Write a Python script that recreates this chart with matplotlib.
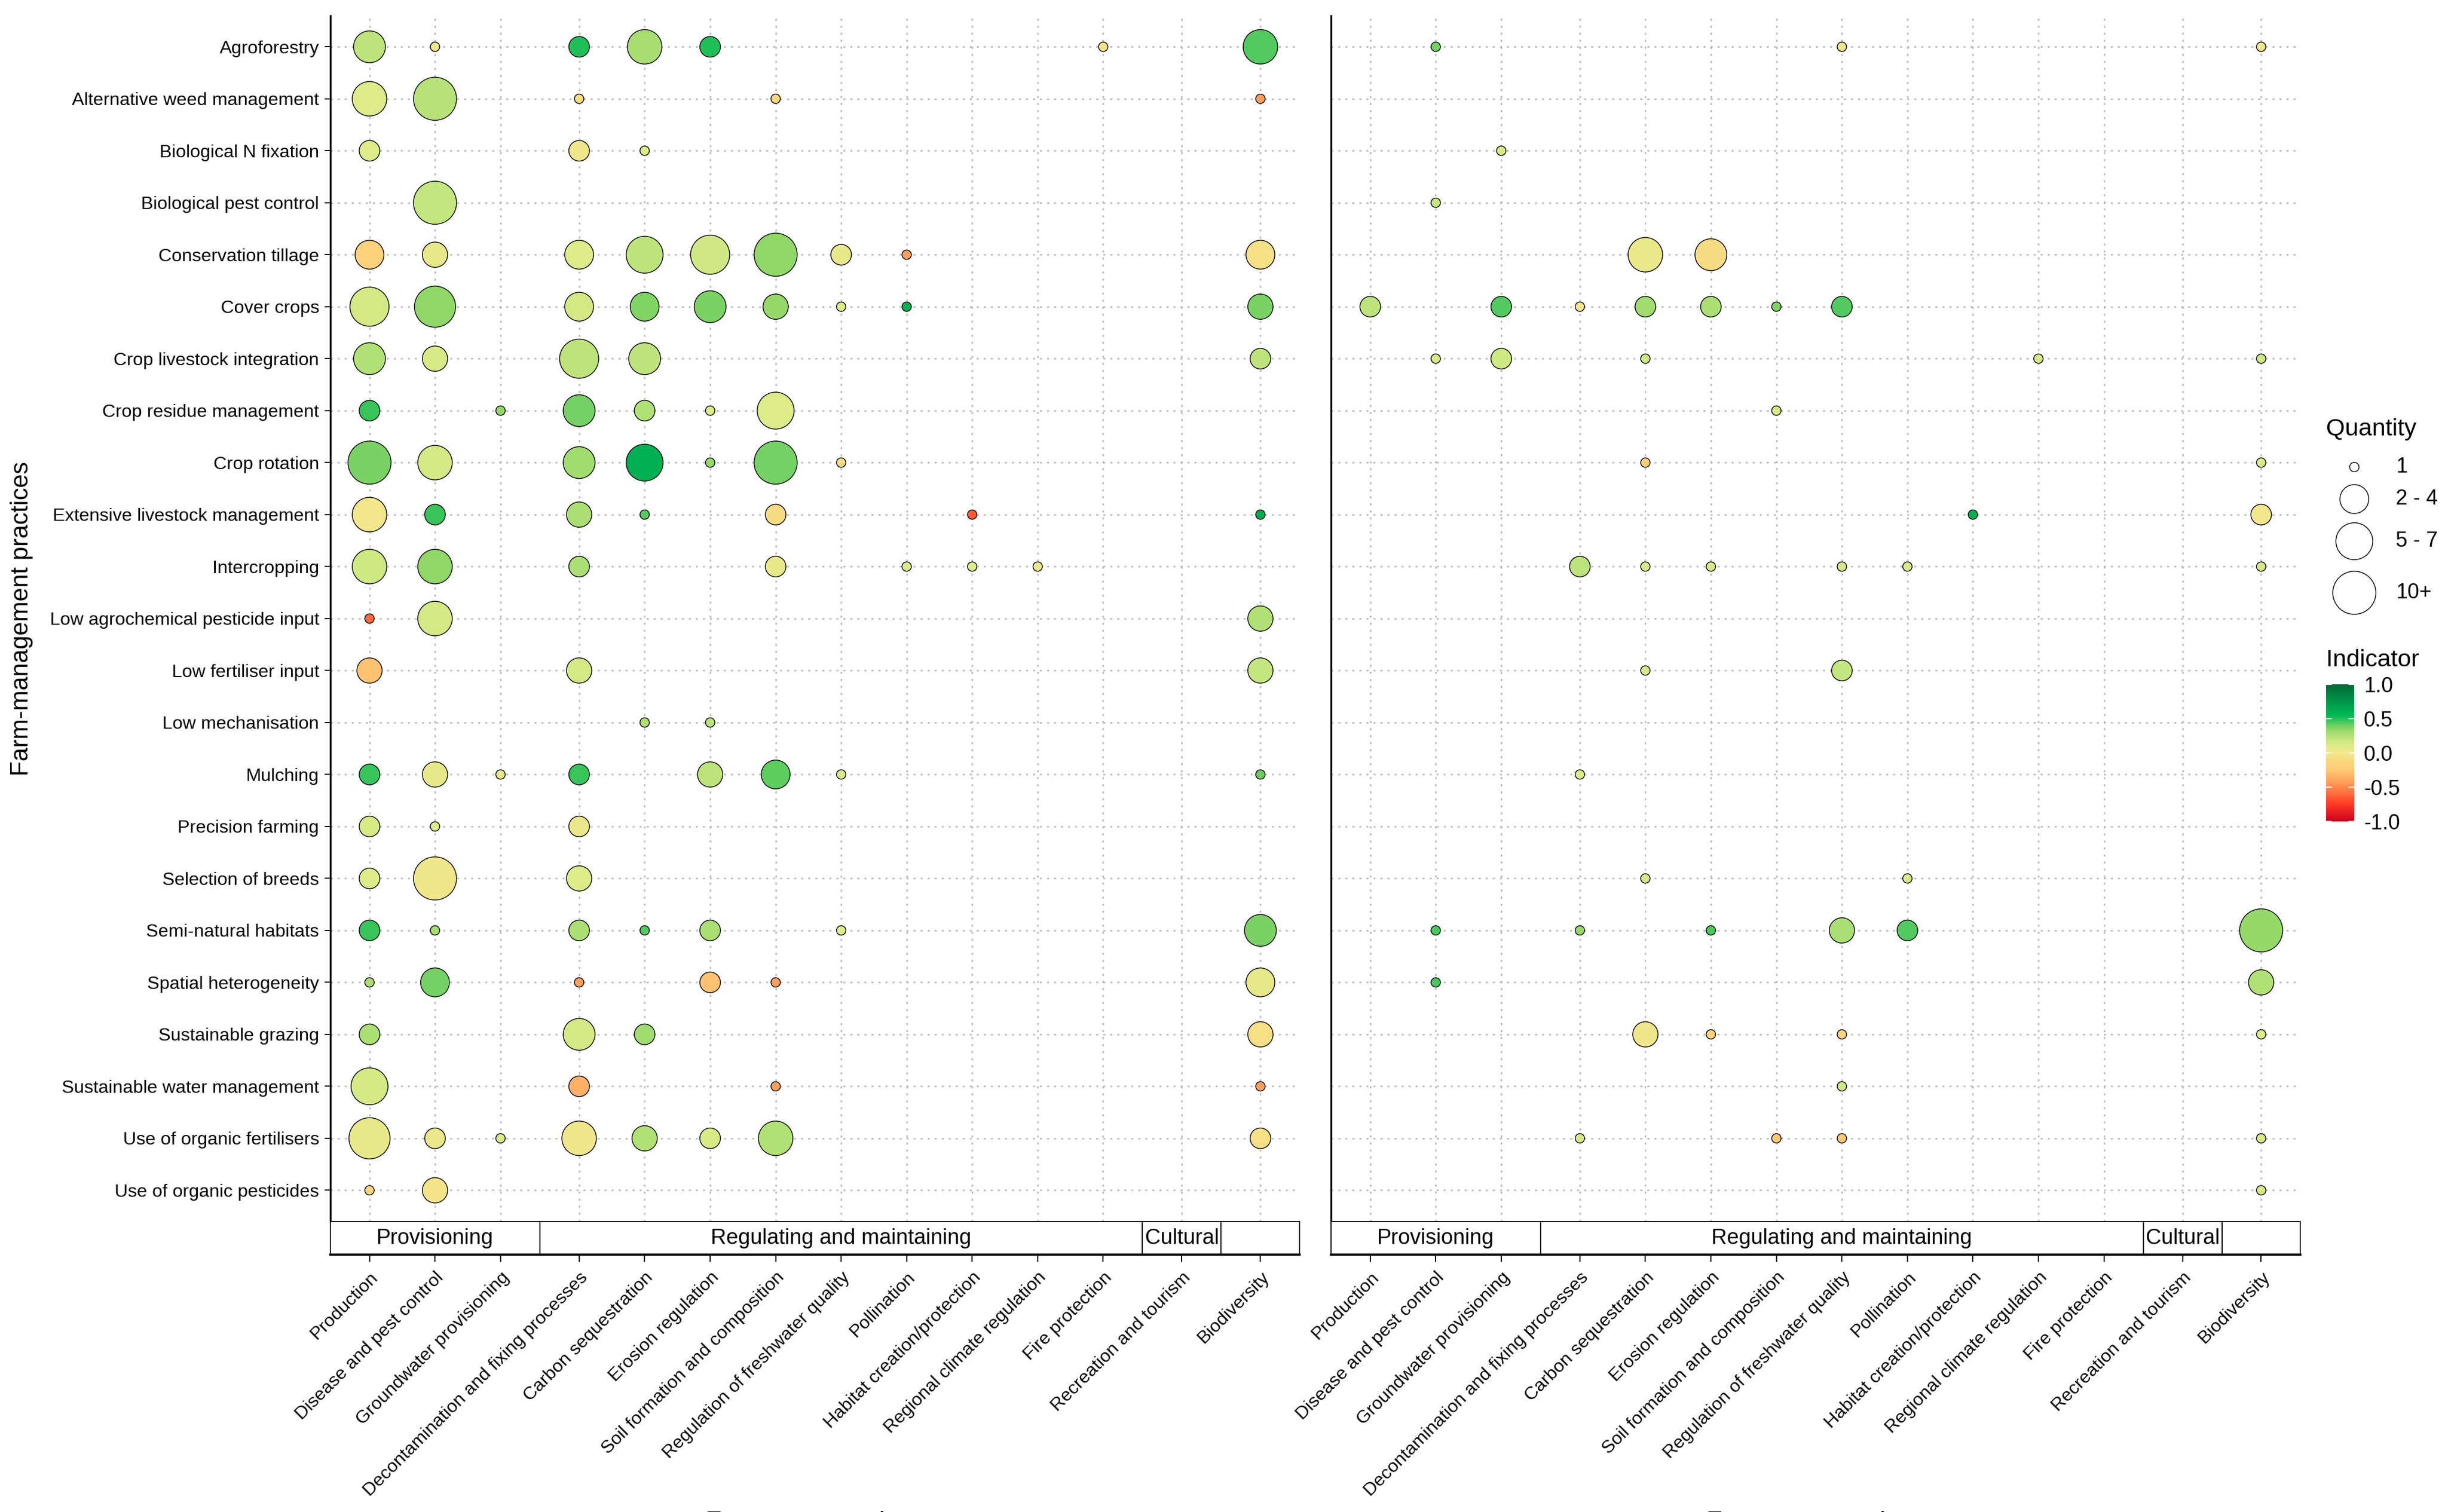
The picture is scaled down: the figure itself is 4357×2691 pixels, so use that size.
import numpy as np
import matplotlib
matplotlib.use("Agg")
import matplotlib.pyplot as plt
from matplotlib.colors import LinearSegmentedColormap, Normalize
from matplotlib.cm import ScalarMappable
from matplotlib.patches import Rectangle

plt.rcParams['font.family'] = ['Liberation Sans', 'DejaVu Sans']

# Rows (farm-management practices), top to bottom
practices = [
    "Agroforestry", "Alternative weed management", "Biological N fixation",
    "Biological pest control", "Conservation tillage", "Cover crops",
    "Crop livestock integration", "Crop residue management", "Crop rotation",
    "Extensive livestock management", "Intercropping",
    "Low agrochemical pesticide input", "Low fertiliser input",
    "Low mechanisation", "Mulching", "Precision farming", "Selection of breeds",
    "Semi-natural habitats", "Spatial heterogeneity", "Sustainable grazing",
    "Sustainable water management", "Use of organic fertilisers",
    "Use of organic pesticides",
]

# Columns (ecosystem services) with short keys
service_keys = ["Prod", "Dis", "GW", "Dec", "Carb", "Eros", "Soil", "Fresh",
                "Poll", "Hab", "Clim", "Fire", "Rec", "Bio"]
service_names = [
    "Production", "Disease and pest control", "Groundwater provisioning",
    "Decontamination and fixing processes", "Carbon sequestration",
    "Erosion regulation", "Soil formation and composition",
    "Regulation of freshwater quality", "Pollination",
    "Habitat creation/protection", "Regional climate regulation",
    "Fire protection", "Recreation and tourism", "Biodiversity",
]
group_names = ["Provisioning", "Regulating and maintaining", "Cultural", ""]
group_sizes = [3, 9, 1, 1]

# (practice, service, quantity, indicator)
left_cells = [
    ("Agroforestry", "Prod", 5, 0.22), ("Agroforestry", "Dis", 1, 0.02),
    ("Agroforestry", "Dec", 2, 0.5), ("Agroforestry", "Carb", 6, 0.28),
    ("Agroforestry", "Eros", 2, 0.5), ("Agroforestry", "Fire", 1, -0.05),
    ("Agroforestry", "Bio", 6, 0.43),
    ("Alternative weed management", "Prod", 6, 0.1),
    ("Alternative weed management", "Dis", 10, 0.24),
    ("Alternative weed management", "Dec", 1, -0.08),
    ("Alternative weed management", "Soil", 1, -0.12),
    ("Alternative weed management", "Bio", 1, -0.42),
    ("Biological N fixation", "Prod", 2, 0.1),
    ("Biological N fixation", "Dec", 2, 0.02),
    ("Biological N fixation", "Carb", 1, 0.1),
    ("Biological pest control", "Dis", 10, 0.2),
    ("Conservation tillage", "Prod", 4, -0.18),
    ("Conservation tillage", "Dis", 3, 0.06),
    ("Conservation tillage", "Dec", 4, 0.1),
    ("Conservation tillage", "Carb", 7, 0.22),
    ("Conservation tillage", "Eros", 8, 0.15),
    ("Conservation tillage", "Soil", 10, 0.35),
    ("Conservation tillage", "Fresh", 2, 0.06),
    ("Conservation tillage", "Poll", 1, -0.42),
    ("Conservation tillage", "Bio", 4, -0.04),
    ("Cover crops", "Prod", 8, 0.14), ("Cover crops", "Dis", 9, 0.35),
    ("Cover crops", "Dec", 4, 0.14), ("Cover crops", "Carb", 4, 0.37),
    ("Cover crops", "Eros", 5, 0.38), ("Cover crops", "Soil", 3, 0.33),
    ("Cover crops", "Fresh", 1, 0.1), ("Cover crops", "Poll", 1, 0.6),
    ("Cover crops", "Bio", 3, 0.38),
    ("Crop livestock integration", "Prod", 5, 0.25),
    ("Crop livestock integration", "Dis", 3, 0.12),
    ("Crop livestock integration", "Dec", 8, 0.22),
    ("Crop livestock integration", "Carb", 5, 0.22),
    ("Crop livestock integration", "Bio", 2, 0.22),
    ("Crop residue management", "Prod", 2, 0.47),
    ("Crop residue management", "GW", 1, 0.33),
    ("Crop residue management", "Dec", 5, 0.39),
    ("Crop residue management", "Carb", 2, 0.25),
    ("Crop residue management", "Eros", 1, 0.1),
    ("Crop residue management", "Soil", 7, 0.1),
    ("Crop rotation", "Prod", 10, 0.38), ("Crop rotation", "Dis", 6, 0.14),
    ("Crop rotation", "Dec", 5, 0.3), ("Crop rotation", "Carb", 7, 0.6),
    ("Crop rotation", "Eros", 1, 0.33), ("Crop rotation", "Soil", 10, 0.39),
    ("Crop rotation", "Fresh", 1, -0.08),
    ("Extensive livestock management", "Prod", 6, 0.0),
    ("Extensive livestock management", "Dis", 2, 0.47),
    ("Extensive livestock management", "Dec", 3, 0.27),
    ("Extensive livestock management", "Carb", 1, 0.43),
    ("Extensive livestock management", "Soil", 2, -0.08),
    ("Extensive livestock management", "Hab", 1, -0.65),
    ("Extensive livestock management", "Bio", 1, 0.62),
    ("Intercropping", "Prod", 6, 0.16), ("Intercropping", "Dis", 6, 0.35),
    ("Intercropping", "Dec", 2, 0.27), ("Intercropping", "Soil", 2, 0.06),
    ("Intercropping", "Poll", 1, 0.1), ("Intercropping", "Hab", 1, 0.1),
    ("Intercropping", "Clim", 1, 0.04),
    ("Low agrochemical pesticide input", "Prod", 1, -0.6),
    ("Low agrochemical pesticide input", "Dis", 6, 0.14),
    ("Low agrochemical pesticide input", "Bio", 3, 0.25),
    ("Low fertiliser input", "Prod", 3, -0.28),
    ("Low fertiliser input", "Dec", 3, 0.14),
    ("Low fertiliser input", "Bio", 3, 0.2),
    ("Low mechanisation", "Carb", 1, 0.25),
    ("Low mechanisation", "Eros", 1, 0.22),
    ("Mulching", "Prod", 2, 0.47), ("Mulching", "Dis", 3, 0.06),
    ("Mulching", "GW", 1, 0.06), ("Mulching", "Dec", 2, 0.47),
    ("Mulching", "Eros", 3, 0.22), ("Mulching", "Soil", 4, 0.42),
    ("Mulching", "Fresh", 1, 0.1), ("Mulching", "Bio", 1, 0.4),
    ("Precision farming", "Prod", 2, 0.13), ("Precision farming", "Dis", 1, 0.1),
    ("Precision farming", "Dec", 2, 0.05),
    ("Selection of breeds", "Prod", 2, 0.1),
    ("Selection of breeds", "Dis", 10, 0.02),
    ("Selection of breeds", "Dec", 3, 0.1),
    ("Semi-natural habitats", "Prod", 2, 0.47),
    ("Semi-natural habitats", "Dis", 1, 0.3),
    ("Semi-natural habitats", "Dec", 2, 0.27),
    ("Semi-natural habitats", "Carb", 1, 0.43),
    ("Semi-natural habitats", "Eros", 2, 0.27),
    ("Semi-natural habitats", "Fresh", 1, 0.1),
    ("Semi-natural habitats", "Bio", 5, 0.38),
    ("Spatial heterogeneity", "Prod", 1, 0.27),
    ("Spatial heterogeneity", "Dis", 4, 0.39),
    ("Spatial heterogeneity", "Dec", 1, -0.42),
    ("Spatial heterogeneity", "Eros", 2, -0.28),
    ("Spatial heterogeneity", "Soil", 1, -0.42),
    ("Spatial heterogeneity", "Bio", 4, 0.06),
    ("Sustainable grazing", "Prod", 2, 0.27),
    ("Sustainable grazing", "Dec", 5, 0.14),
    ("Sustainable grazing", "Carb", 2, 0.3),
    ("Sustainable grazing", "Bio", 3, -0.06),
    ("Sustainable water management", "Prod", 7, 0.14),
    ("Sustainable water management", "Dec", 2, -0.35),
    ("Sustainable water management", "Soil", 1, -0.42),
    ("Sustainable water management", "Bio", 1, -0.42),
    ("Use of organic fertilisers", "Prod", 9, 0.06),
    ("Use of organic fertilisers", "Dis", 2, 0.04),
    ("Use of organic fertilisers", "GW", 1, 0.1),
    ("Use of organic fertilisers", "Dec", 6, 0.02),
    ("Use of organic fertilisers", "Carb", 3, 0.25),
    ("Use of organic fertilisers", "Eros", 2, 0.13),
    ("Use of organic fertilisers", "Soil", 6, 0.25),
    ("Use of organic fertilisers", "Bio", 2, -0.06),
    ("Use of organic pesticides", "Prod", 1, -0.15),
    ("Use of organic pesticides", "Dis", 3, -0.02),
]

right_cells = [
    ("Agroforestry", "Dis", 1, 0.39), ("Agroforestry", "Fresh", 1, 0.0),
    ("Agroforestry", "Bio", 1, 0.0),
    ("Biological N fixation", "GW", 1, 0.12),
    ("Biological pest control", "Dis", 1, 0.2),
    ("Conservation tillage", "Carb", 6, 0.05),
    ("Conservation tillage", "Eros", 5, -0.08),
    ("Cover crops", "Prod", 2, 0.22), ("Cover crops", "GW", 2, 0.43),
    ("Cover crops", "Dec", 1, 0.0), ("Cover crops", "Carb", 2, 0.3),
    ("Cover crops", "Eros", 2, 0.27), ("Cover crops", "Soil", 1, 0.37),
    ("Cover crops", "Fresh", 2, 0.43),
    ("Crop livestock integration", "Dis", 1, 0.13),
    ("Crop livestock integration", "GW", 2, 0.16),
    ("Crop livestock integration", "Carb", 1, 0.16),
    ("Crop livestock integration", "Clim", 1, 0.12),
    ("Crop livestock integration", "Bio", 1, 0.16),
    ("Crop residue management", "Soil", 1, 0.12),
    ("Crop rotation", "Carb", 1, -0.2), ("Crop rotation", "Bio", 1, 0.13),
    ("Extensive livestock management", "Hab", 1, 0.6),
    ("Extensive livestock management", "Bio", 2, 0.0),
    ("Intercropping", "Dec", 2, 0.22), ("Intercropping", "Carb", 1, 0.13),
    ("Intercropping", "Eros", 1, 0.13), ("Intercropping", "Fresh", 1, 0.13),
    ("Intercropping", "Poll", 1, 0.13), ("Intercropping", "Bio", 1, 0.13),
    ("Low fertiliser input", "Carb", 1, 0.12),
    ("Low fertiliser input", "Fresh", 2, 0.2),
    ("Mulching", "Dec", 1, 0.1),
    ("Selection of breeds", "Carb", 1, 0.12),
    ("Selection of breeds", "Poll", 1, 0.12),
    ("Semi-natural habitats", "Dis", 1, 0.45),
    ("Semi-natural habitats", "Dec", 1, 0.33),
    ("Semi-natural habitats", "Eros", 1, 0.45),
    ("Semi-natural habitats", "Fresh", 3, 0.27),
    ("Semi-natural habitats", "Poll", 2, 0.43),
    ("Semi-natural habitats", "Bio", 10, 0.33),
    ("Spatial heterogeneity", "Dis", 1, 0.45),
    ("Spatial heterogeneity", "Bio", 3, 0.25),
    ("Sustainable grazing", "Carb", 3, 0.02),
    ("Sustainable grazing", "Eros", 1, -0.15),
    ("Sustainable grazing", "Fresh", 1, -0.15),
    ("Sustainable grazing", "Bio", 1, 0.1),
    ("Sustainable water management", "Fresh", 1, 0.16),
    ("Use of organic fertilisers", "Dec", 1, 0.12),
    ("Use of organic fertilisers", "Soil", 1, -0.25),
    ("Use of organic fertilisers", "Fresh", 1, -0.25),
    ("Use of organic fertilisers", "Bio", 1, 0.12),
    ("Use of organic pesticides", "Bio", 1, 0.12),
]

size_breaks = [1, 4, 7, 10]
size_labels = ["1", "2 - 4", "5 - 7", "10+"]
indicator_ticks = [-1.0, -0.5, 0.0, 0.5, 1.0]

# colour scale for the indicator
stops = [(-1.0, '#C8001E'), (-0.75, '#FF3A24'), (-0.5, '#FF8B4E'),
         (-0.25, '#FFC975'), (0.0, '#F5E68B'), (0.1, '#DDEB88'),
         (0.2, '#C4E67E'), (0.35, '#8FD766'), (0.55, '#00B955'),
         (1.0, '#006838')]
cmap = LinearSegmentedColormap.from_list(
    'indicator', [((v + 1) / 2, c) for v, c in stops])
norm = Normalize(-1, 1)

# figure geometry in "reference pixels" (1568 x 968 grid)
W, H = 1568.0, 968.0
PT = 72.0 * (4357 / W) / 300.0   # points per reference pixel


def bubble_area(q):
    q = np.asarray(q, dtype=float)
    d = 6 + 21.6 * np.sqrt((q - 1) / 9.0)
    return (d * PT) ** 2


# x positions per facet group (ggplot-like discrete expansion)
x_pos = []
edges = [0.0]
start = 0.0
for n in group_sizes:
    x_pos += [start + 0.6 + i for i in range(n)]
    start += n + 0.2
    edges.append(start)
x_total = start
svc_x = dict(zip(service_keys, x_pos))
row_y = {p: i for i, p in enumerate(practices)}

fig = plt.figure(figsize=(4357 / 300, 2691 / 300), dpi=300)


def fig_rect(x0, y0, x1, y1):
    return [x0 / W, 1 - y1 / H, (x1 - x0) / W, (y1 - y0) / H]


grid_style = dict(color='#B5B5B5', linestyle=(0, (1.5, 3.5)), linewidth=0.6)


def draw_panel(x_left, cells, show_labels):
    ax = fig.add_axes(fig_rect(x_left, 10, x_left + 621, 782))
    sax = fig.add_axes(fig_rect(x_left, 782, x_left + 621, 803.4))

    xs = [svc_x[c[1]] for c in cells]
    ys = [row_y[c[0]] for c in cells]
    qs = [c[2] for c in cells]
    vs = [c[3] for c in cells]
    ax.scatter(xs, ys, s=bubble_area(qs), c=vs, cmap=cmap, norm=norm,
               edgecolors='black', linewidths=0.35, zorder=3)

    ax.set_xlim(0, x_total)
    ax.set_ylim(len(practices) - 0.4, -0.6)
    ax.set_xticks(x_pos)
    ax.set_yticks(range(len(practices)))
    ax.grid(True, **grid_style)
    ax.set_axisbelow(True)
    for side in ['top', 'right', 'bottom']:
        ax.spines[side].set_visible(False)
    ax.spines['left'].set_linewidth(0.8)
    ax.tick_params(axis='x', bottom=False, labelbottom=False)
    if show_labels:
        ax.set_yticklabels(practices)
        ax.tick_params(axis='y', length=2.4, width=0.5, pad=2.3,
                       labelsize=7.8)
    else:
        ax.tick_params(axis='y', left=False, labelleft=False)

    # strip boxes under the panel
    sax.set_xlim(0, x_total)
    sax.set_ylim(0, 1)
    for i, name in enumerate(group_names):
        sax.add_patch(Rectangle((edges[i], 0), edges[i + 1] - edges[i], 1,
                                facecolor='white', edgecolor='black',
                                linewidth=0.45, clip_on=False))
        sax.text((edges[i] + edges[i + 1]) / 2, 0.5, name, ha='center',
                 va='center', fontsize=9.2)
    for side in ['top', 'right', 'left']:
        sax.spines[side].set_visible(False)
    sax.spines['bottom'].set_linewidth(1.0)
    sax.set_yticks([])
    sax.set_xticks(x_pos)
    sax.set_xticklabels(service_names)
    sax.tick_params(axis='x', length=3.0, width=0.5, pad=3.0, labelsize=7.8)
    plt.setp(sax.get_xticklabels(), rotation=45, ha='right', va='top',
             rotation_mode='anchor')

    # axis title sits at the very bottom edge, as in the original export
    fig.text((x_left + 310) / W, 1.6 / 2691, "Ecosystem services",
             ha='center', va='top', fontsize=10.5)
    return ax


draw_panel(211.5, left_cells, True)
draw_panel(852.5, right_cells, False)

fig.text(14 / W, 1 - 396 / H, "Farm-management practices", rotation=90,
         ha='center', va='center', fontsize=10.5)

# size legend
lax = fig.add_axes([0, 0, 1, 1])
lax.set_xlim(0, W)
lax.set_ylim(H, 0)
lax.axis('off')
lax.text(1490, 274.8, "Quantity", ha='left', va='center', fontsize=10.4)
key_y = [299, 319.5, 346.5, 379.5]
lax.scatter([1508] * len(size_breaks), key_y, s=bubble_area(size_breaks),
            facecolors='white', edgecolors='black', linewidths=0.35)
for y, lab in zip(key_y, size_labels):
    lax.text(1534.5, y, lab, ha='left', va='center', fontsize=9)

lax.text(1490, 422.6, "Indicator", ha='left', va='center', fontsize=10.4)

cax = fig.add_axes(fig_rect(1490, 438, 1508, 526))
cb = fig.colorbar(ScalarMappable(norm=norm, cmap=cmap), cax=cax,
                  ticks=indicator_ticks)
cb.outline.set_visible(False)
cb.ax.set_yticklabels([f"{t:.1f}" for t in indicator_ticks])
cb.ax.tick_params(axis='y', direction='in', length=2.4, width=0.5,
                  color='white', left=True, right=True, labelsize=9, pad=4)

fig.savefig("out.png", dpi=300, facecolor='white')
